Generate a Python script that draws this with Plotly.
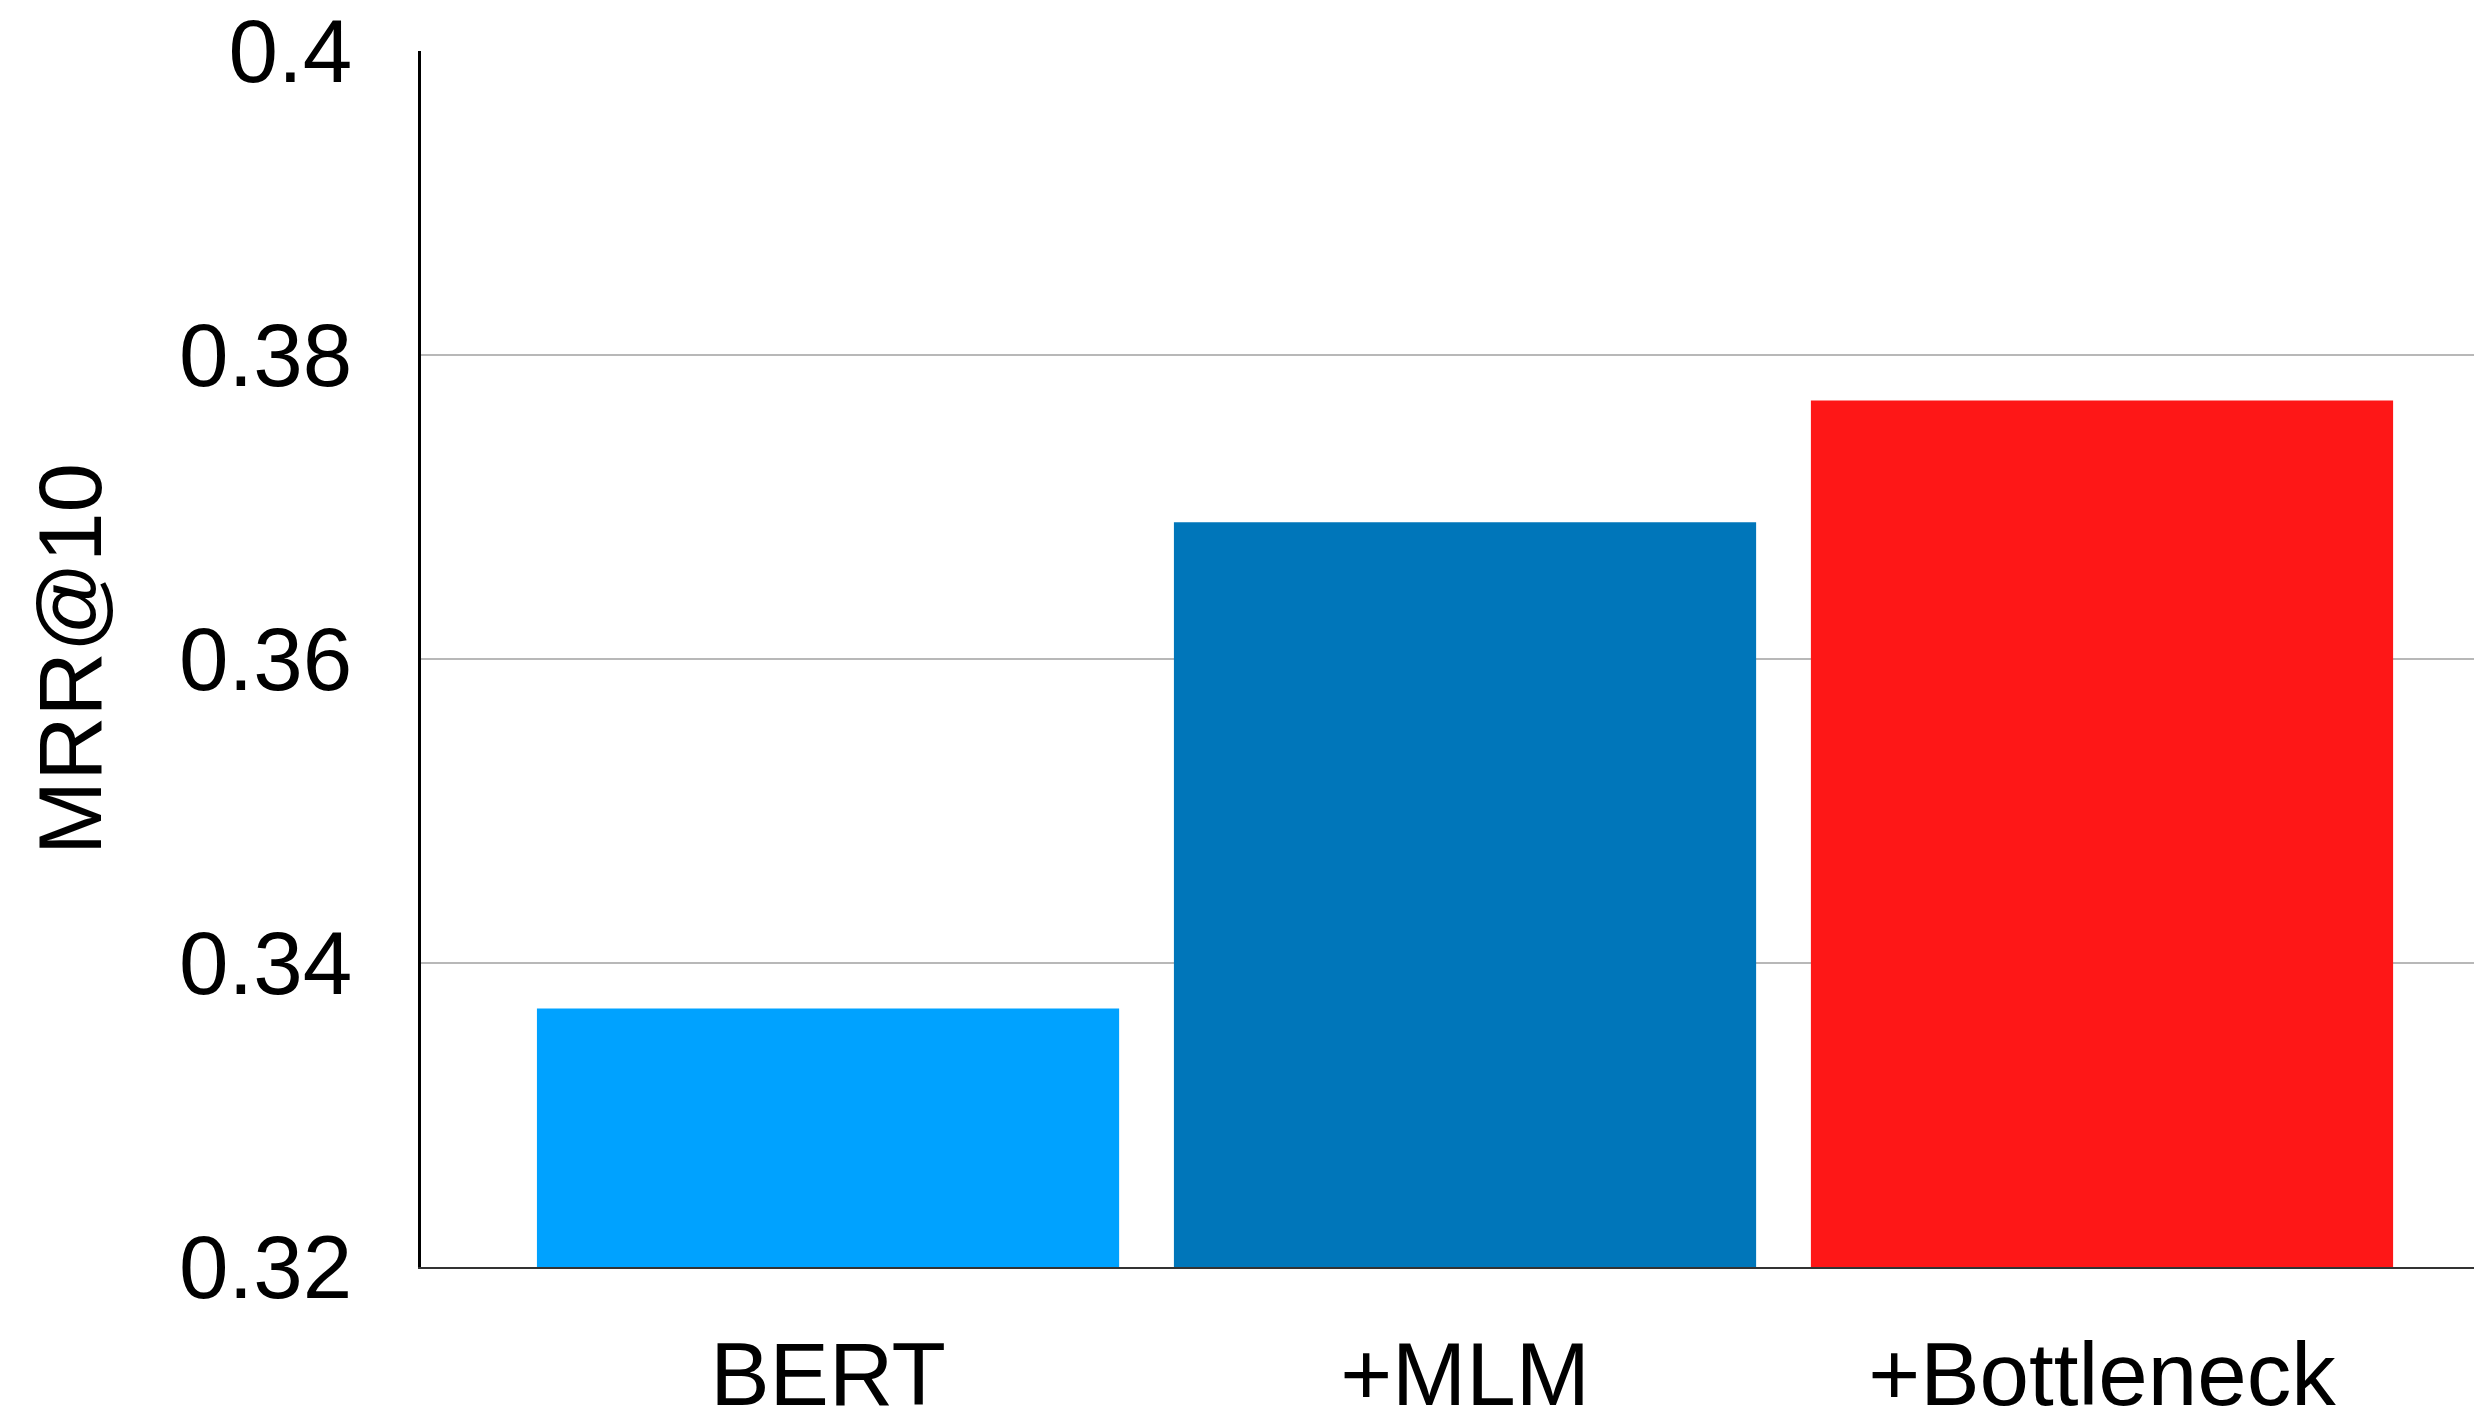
import plotly.graph_objects as go

# MRR@10 for each model variant
models = ["BERT", "+MLM", "+Bottleneck"]
mrr_at_10 = [0.337, 0.369, 0.377]
bar_colors = ["#00A2FF", "#0076BA", "#FE1717"]

y_floor = 0.32
y_ticks = [0.32, 0.34, 0.36, 0.38, 0.4]
y_tick_text = ["0.32", "0.34", "0.36", "0.38", "0.4"]

FONT = "Liberation Sans, Arial, Helvetica, sans-serif"

fig = go.Figure(
    go.Bar(
        x=models,
        y=[v - y_floor for v in mrr_at_10],
        base=y_floor,
        customdata=mrr_at_10,
        hovertemplate="%{x}: %{customdata}<extra></extra>",
        marker=dict(color=bar_colors, line=dict(width=0)),
        width=0.914,
    )
)

fig.update_layout(
    width=2474,
    height=1412,
    margin=dict(l=421, r=0, t=51, b=145),
    paper_bgcolor="white",
    plot_bgcolor="white",
    showlegend=False,
    font=dict(family=FONT, size=89, color="black"),
    xaxis=dict(
        type="category",
        range=[-0.639, 2.584],
        automargin=False,
        showgrid=False,
        showline=True,
        linecolor="#333333",
        linewidth=2,
        ticks="",
        ticklabelstandoff=29,
        tickfont=dict(family=FONT, size=89, color="black"),
    ),
    yaxis=dict(
        range=[y_floor, 0.40],
        automargin=False,
        tickvals=y_ticks,
        ticktext=y_tick_text,
        showgrid=True,
        gridcolor="#B8B8B8",
        gridwidth=2,
        zeroline=False,
        showline=True,
        linecolor="black",
        linewidth=3,
        ticks="",
        ticklabelstandoff=48,
        tickfont=dict(family=FONT, size=89, color="black"),
        title=dict(
            text="MRR@10",
            font=dict(family=FONT, size=89, color="black"),
            standoff=48,
        ),
    ),
)

fig.write_html("out.html")
